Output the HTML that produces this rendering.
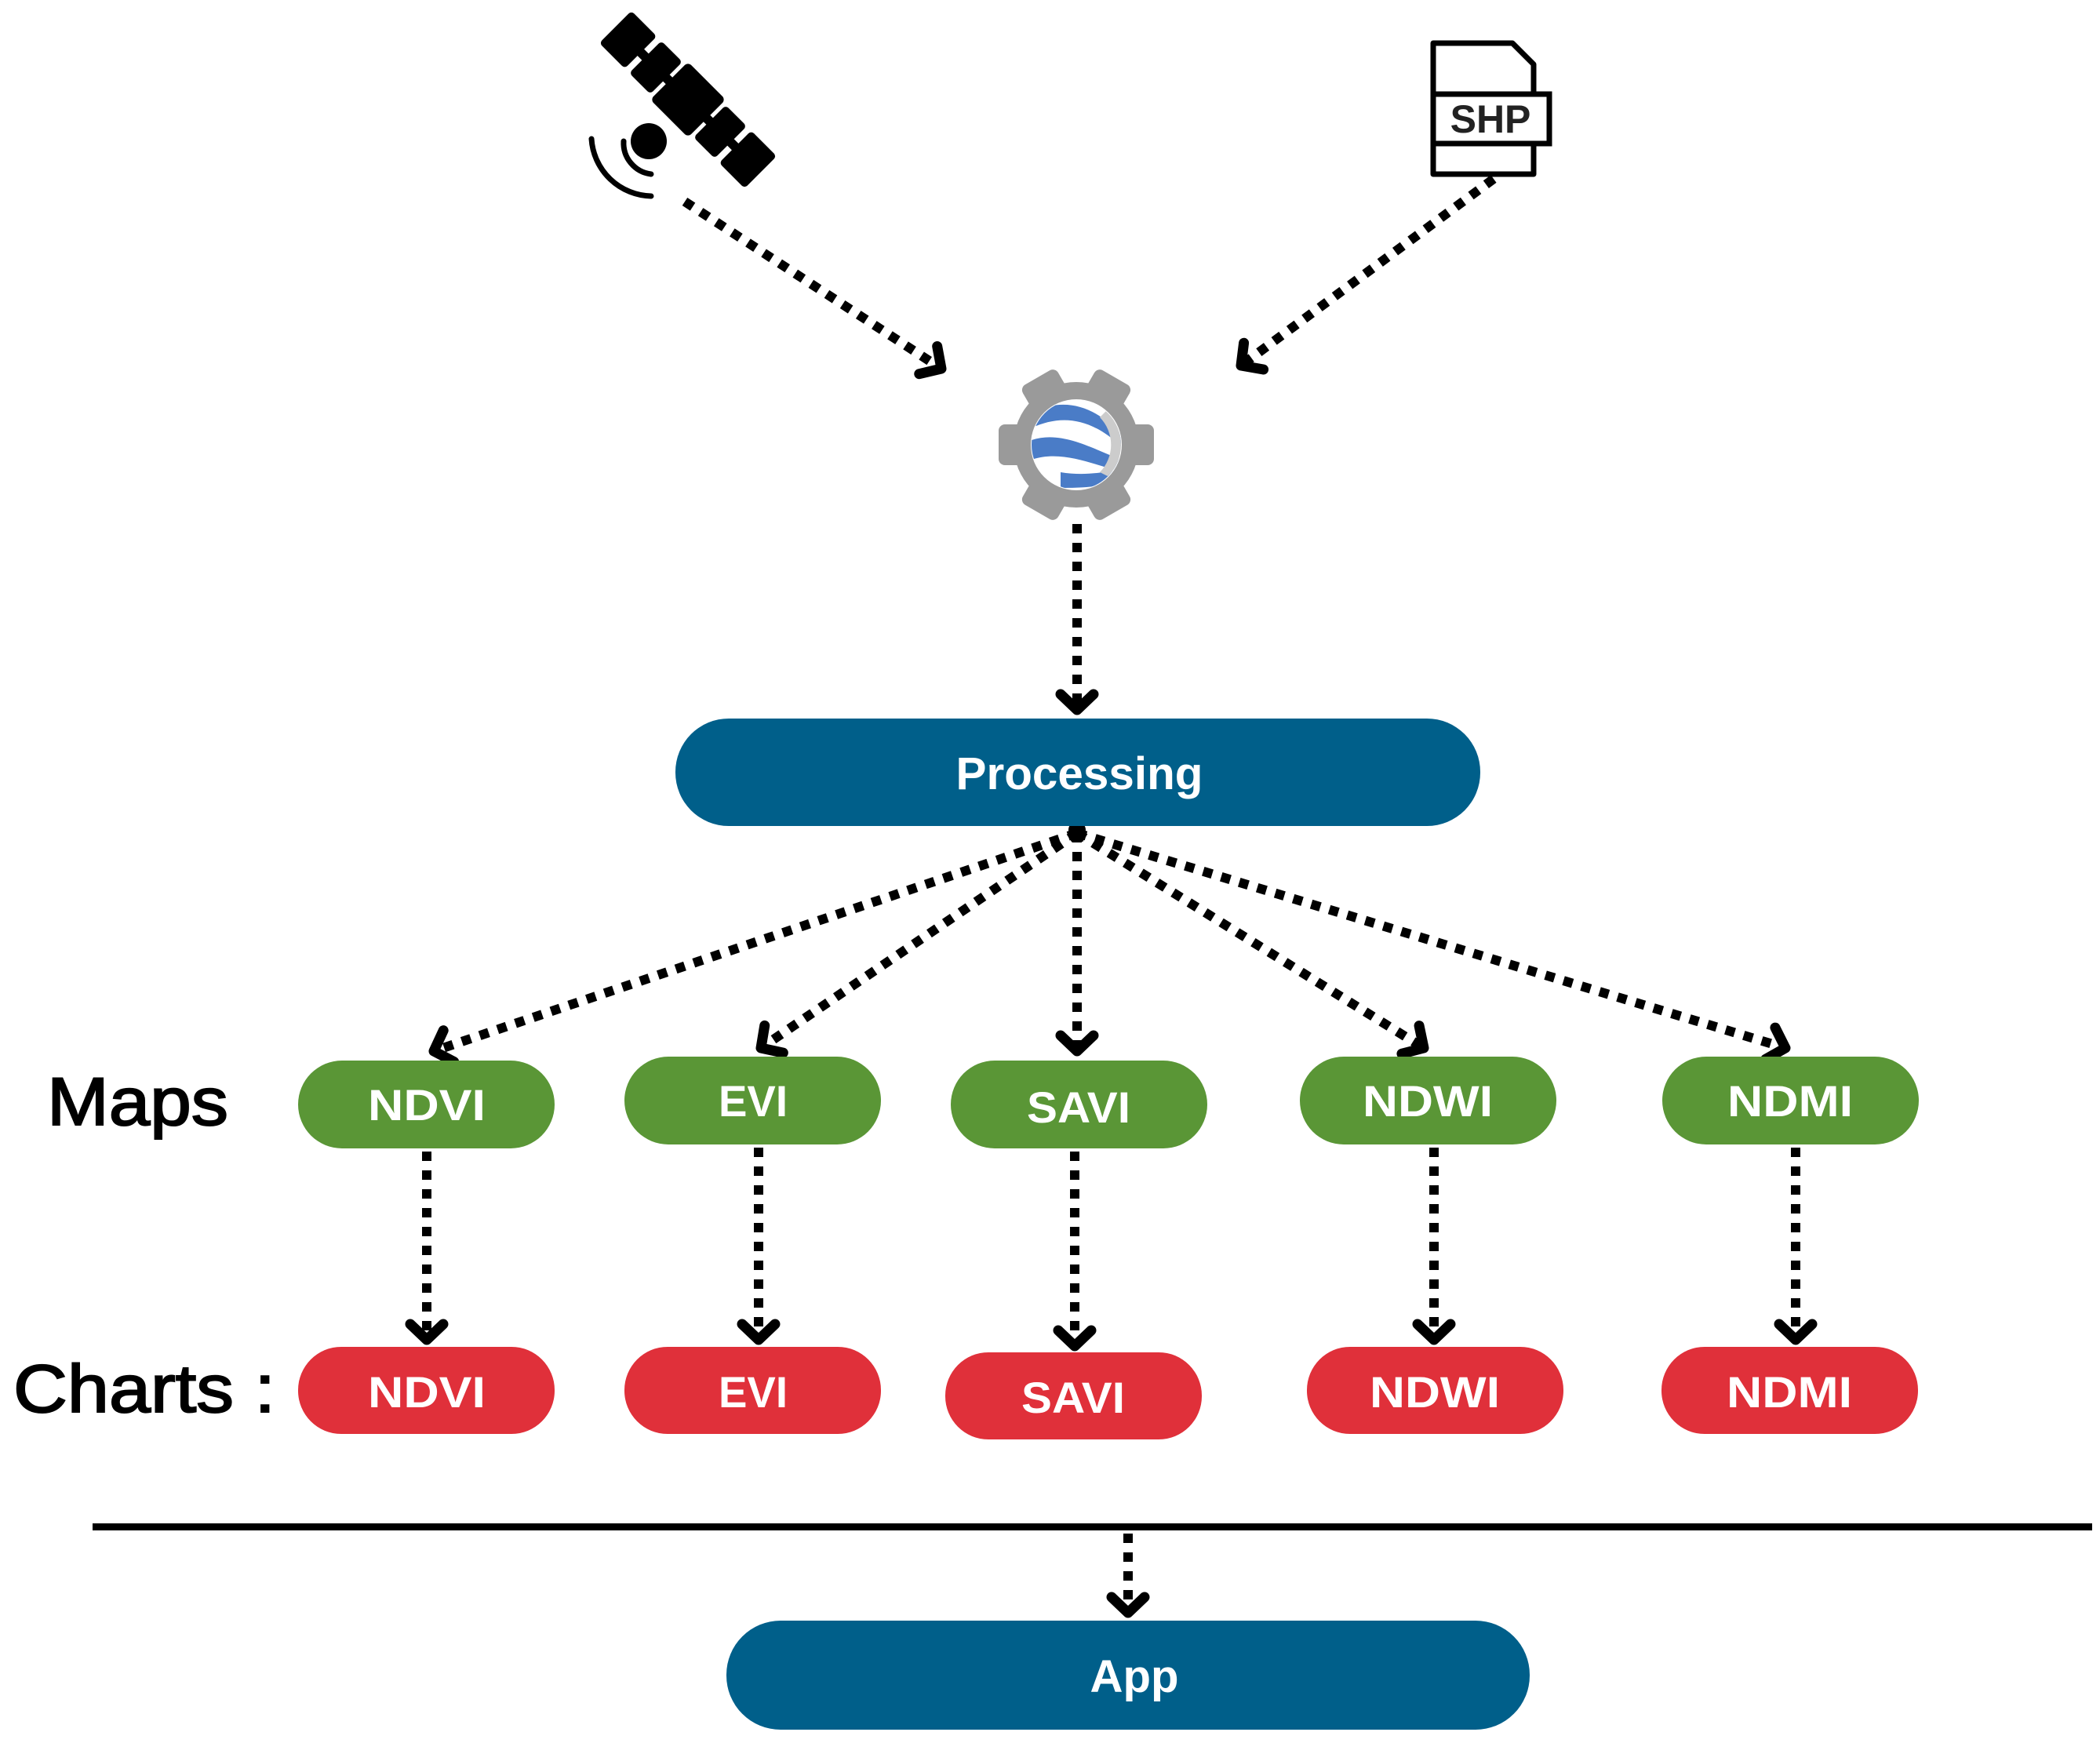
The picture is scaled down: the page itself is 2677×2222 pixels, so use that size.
<!DOCTYPE html>
<html><head><meta charset="utf-8"><style>
html,body{margin:0;padding:0;background:#fff;}
svg{display:block;}
</style></head><body>
<svg width="2677" height="2222" viewBox="0 0 2677 2222" xmlns="http://www.w3.org/2000/svg">
<defs>
<marker id="ah" markerUnits="userSpaceOnUse" markerWidth="60" markerHeight="60" refX="30" refY="30" orient="auto" viewBox="0 0 60 60">
<path d="M10 9 L30 30 L10 51" fill="none" stroke="#000" stroke-width="13" stroke-linecap="round" stroke-linejoin="round"/>
</marker>
</defs>
<g fill="none" stroke="#000" stroke-width="12" stroke-dasharray="12 12" marker-end="url(#ah)">
<line x1="873" y1="257" x2="1200" y2="470"/>
<line x1="1904" y1="228" x2="1582" y2="466"/>
<line x1="1373" y1="668" x2="1373" y2="905"/>
<line x1="1373" y1="1062" x2="553" y2="1340"/>
<line x1="1373" y1="1062" x2="970" y2="1336"/>
<line x1="1373" y1="1062" x2="1373" y2="1340"/>
<line x1="1373" y1="1062" x2="1815" y2="1336"/>
<line x1="1373" y1="1062" x2="2276" y2="1336"/>
<line x1="544" y1="1468" x2="544" y2="1708"/>
<line x1="967" y1="1463" x2="967" y2="1708"/>
<line x1="1370" y1="1468" x2="1370" y2="1716"/>
<line x1="1828" y1="1463" x2="1828" y2="1708"/>
<line x1="2289" y1="1463" x2="2289" y2="1708"/>
<line x1="1438" y1="1955" x2="1438" y2="2056"/>
</g>
<circle cx="1373" cy="1058" r="11" fill="#000"/>

<!-- satellite -->
<g fill="#000" transform="rotate(45 877 127)">
<rect x="843" y="93" width="68" height="68" rx="6"/>
<rect x="746" y="98" width="46" height="58" rx="5"/>
<rect x="800" y="98" width="38" height="58" rx="5"/>
<rect x="788" y="121" width="60" height="12"/>
<rect x="916" y="98" width="38" height="58" rx="5"/>
<rect x="962" y="98" width="46" height="58" rx="5"/>
<rect x="906" y="121" width="60" height="12"/>
</g>
<circle cx="827" cy="180" r="23" fill="#000"/>
<path d="M795 180 A40 40 0 0 0 830 222" fill="none" stroke="#000" stroke-width="7" stroke-linecap="round"/>
<path d="M754 177 A78 78 0 0 0 830 250" fill="none" stroke="#000" stroke-width="7" stroke-linecap="round"/>

<!-- SHP file -->
<path d="M1827 55 L1928 55 L1955 82 L1955 222 L1827 222 Z" fill="#fff" stroke="#000" stroke-width="7" stroke-linejoin="round"/>
<rect x="1827" y="120" width="148" height="63" fill="#fff" stroke="#000" stroke-width="7"/>
<text x="1900" y="169" font-family="Liberation Sans, sans-serif" font-weight="bold" font-size="50" text-anchor="middle" fill="#222">SHP</text>

<!-- gear -->
<g transform="translate(1372 567)">
<g fill="#9a9a9a">
<circle r="80"/>
<rect x="-26" y="-99" width="52" height="40" rx="8" transform="rotate(30)"/>
<rect x="-26" y="-99" width="52" height="40" rx="8" transform="rotate(90)"/>
<rect x="-26" y="-99" width="52" height="40" rx="8" transform="rotate(150)"/>
<rect x="-26" y="-99" width="52" height="40" rx="8" transform="rotate(210)"/>
<rect x="-26" y="-99" width="52" height="40" rx="8" transform="rotate(270)"/>
<rect x="-26" y="-99" width="52" height="40" rx="8" transform="rotate(330)"/>
</g>
<circle r="58" fill="#fff"/>
<clipPath id="gc"><circle r="57"/></clipPath>
<g clip-path="url(#gc)">
<path d="M-60 -40 C-20 -60 20 -55 60 -10 L60 5 C20 -35 -20 -40 -60 -20 Z" fill="#4a7cc7"/>
<path d="M-60 -5 C-20 -20 20 5 60 20 L60 35 C20 25 -20 5 -60 20 Z" fill="#4a7cc7"/>
<path d="M-20 35 C10 40 40 35 60 30 L60 45 C30 55 0 55 -20 55 Z" fill="#4a7cc7"/>
<path d="M40 -45 A57 57 0 0 1 40 40 L30 35 A50 50 0 0 0 30 -35 Z" fill="#ccc"/>
</g>
</g>

<!-- pills -->
<g font-family="Liberation Sans, sans-serif" font-weight="bold" fill="#fff" text-anchor="middle">
<rect x="861" y="916" width="1026" height="137" rx="68" fill="#005f8a"/>
<text x="1376" y="1006" font-size="58" textLength="315" lengthAdjust="spacingAndGlyphs" fill="#fff">Processing</text>
<rect x="926" y="2066" width="1024" height="139" rx="69" fill="#005f8a"/>
<text x="1446" y="2157" font-size="58" textLength="113" lengthAdjust="spacingAndGlyphs" fill="#fff">App</text>

<rect x="380" y="1352" width="327" height="112" rx="56" fill="#5a9636"/>
<text x="544" y="1428" font-size="56" textLength="150" lengthAdjust="spacingAndGlyphs" fill="#fff">NDVI</text>
<rect x="796" y="1347" width="327" height="112" rx="56" fill="#5a9636"/>
<text x="960" y="1423" font-size="56" textLength="88" lengthAdjust="spacingAndGlyphs" fill="#fff">EVI</text>
<rect x="1212" y="1352" width="327" height="112" rx="56" fill="#5a9636"/>
<text x="1375" y="1431" font-size="56" textLength="132" lengthAdjust="spacingAndGlyphs" fill="#fff">SAVI</text>
<rect x="1657" y="1347" width="327" height="112" rx="56" fill="#5a9636"/>
<text x="1820" y="1423" font-size="56" textLength="166" lengthAdjust="spacingAndGlyphs" fill="#fff">NDWI</text>
<rect x="2119" y="1347" width="327" height="112" rx="56" fill="#5a9636"/>
<text x="2282" y="1423" font-size="56" textLength="160" lengthAdjust="spacingAndGlyphs" fill="#fff">NDMI</text>

<rect x="380" y="1717" width="327" height="111" rx="55" fill="#e0303a"/>
<text x="544" y="1794" font-size="56" textLength="150" lengthAdjust="spacingAndGlyphs" fill="#fff">NDVI</text>
<rect x="796" y="1717" width="327" height="111" rx="55" fill="#e0303a"/>
<text x="960" y="1794" font-size="56" textLength="88" lengthAdjust="spacingAndGlyphs" fill="#fff">EVI</text>
<rect x="1205" y="1724" width="327" height="111" rx="55" fill="#e0303a"/>
<text x="1368" y="1801" font-size="56" textLength="132" lengthAdjust="spacingAndGlyphs" fill="#fff">SAVI</text>
<rect x="1666" y="1717" width="327" height="111" rx="55" fill="#e0303a"/>
<text x="1829" y="1794" font-size="56" textLength="166" lengthAdjust="spacingAndGlyphs" fill="#fff">NDWI</text>
<rect x="2118" y="1717" width="327" height="111" rx="55" fill="#e0303a"/>
<text x="2281" y="1794" font-size="56" textLength="160" lengthAdjust="spacingAndGlyphs" fill="#fff">NDMI</text>
</g>

<g font-family="Liberation Sans, sans-serif" fill="#000" stroke="#000" stroke-width="2">
<text x="60" y="1434" font-size="86" textLength="231" lengthAdjust="spacingAndGlyphs">Maps</text>
<text x="17" y="1800" font-size="86" textLength="334" lengthAdjust="spacingAndGlyphs">Charts :</text>
</g>

<rect x="118" y="1942" width="2549" height="9" fill="#000"/>
</svg>
</body></html>
